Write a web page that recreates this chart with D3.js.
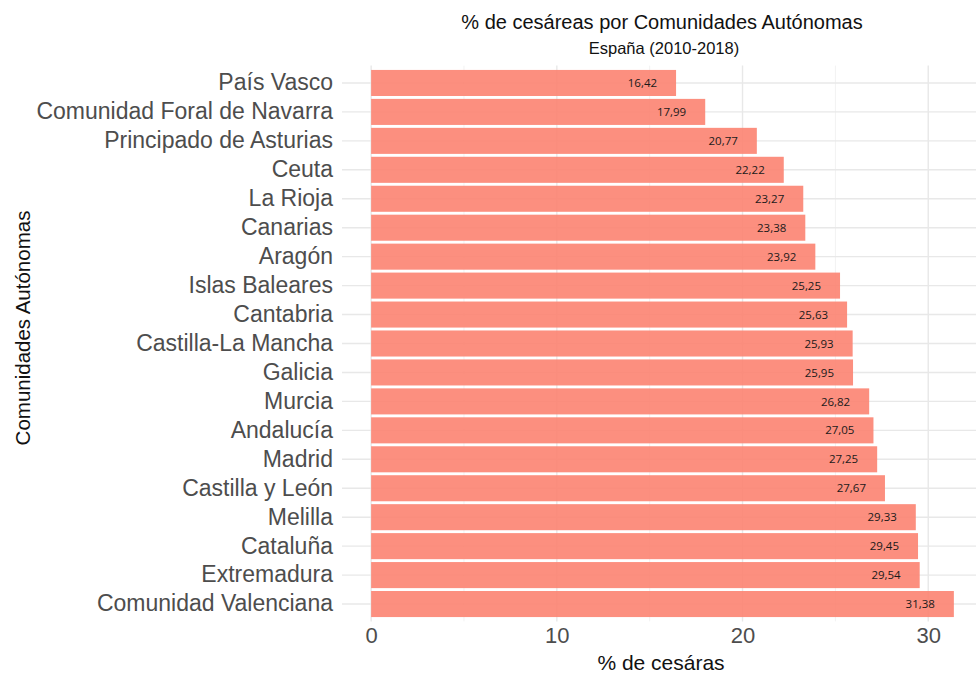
<!DOCTYPE html>
<html>
<head>
<meta charset="utf-8">
<script src="https://cdn.jsdelivr.net/npm/d3@7"></script>
<style>
  body { margin: 0; background: #fff; }
  text { font-family: "Liberation Sans", Arial, sans-serif; }
</style>
</head>
<body>
<script>
// data, top to bottom as in the chart
const regions = [
  'País Vasco', 'Comunidad Foral de Navarra', 'Principado de Asturias', 'Ceuta',
  'La Rioja', 'Canarias', 'Aragón', 'Islas Baleares', 'Cantabria',
  'Castilla-La Mancha', 'Galicia', 'Murcia', 'Andalucía', 'Madrid',
  'Castilla y León', 'Melilla', 'Cataluña', 'Extremadura', 'Comunidad Valenciana'
];
const pct = [
  16.42, 17.99, 20.77, 22.22, 23.27, 23.38, 23.92, 25.25, 25.63,
  25.93, 25.95, 26.82, 27.05, 27.25, 27.67, 29.33, 29.45, 29.54, 31.38
];
const xTicks = [0, 10, 20, 30];
const xMinor = [5, 15, 25];

const w = 976;
const h = 673;
const svg = d3.select('body').append('svg').attr('width', w).attr('height', h);

const pLeft = 342, pRight = 983, pTop = 65.6, pBottom = 621.4;

const maxV = d3.max(pct);
const xScale = d3.scaleLinear()
  .domain([-maxV * 0.05, maxV * 1.05])
  .range([pLeft, pRight]);

const yScale = d3.scaleBand()
  .domain(regions)
  .range([pTop, pBottom])
  .paddingInner(0.1)
  .paddingOuter(0.15);

// gridlines
const grid = svg.append('g');
grid.selectAll('.minor')
  .data(xMinor)
  .enter()
  .append('line')
  .attr('x1', d => xScale(d)).attr('x2', d => xScale(d))
  .attr('y1', pTop).attr('y2', pBottom)
  .attr('stroke', '#f2f2f2').attr('stroke-width', 1);
grid.selectAll('.major')
  .data(xTicks)
  .enter()
  .append('line')
  .attr('x1', d => xScale(d)).attr('x2', d => xScale(d))
  .attr('y1', pTop).attr('y2', pBottom)
  .attr('stroke', '#e8e8e8').attr('stroke-width', 1.4);
grid.selectAll('.hline')
  .data(regions)
  .enter()
  .append('line')
  .attr('x1', pLeft).attr('x2', pRight)
  .attr('y1', d => yScale(d) + yScale.bandwidth() / 2)
  .attr('y2', d => yScale(d) + yScale.bandwidth() / 2)
  .attr('stroke', '#e8e8e8').attr('stroke-width', 1.4);

// bars
svg.selectAll('rect')
  .data(pct)
  .enter()
  .append('rect')
  .attr('x', xScale(0))
  .attr('y', (d, i) => yScale(regions[i]))
  .attr('width', d => xScale(d) - xScale(0))
  .attr('height', yScale.bandwidth())
  .attr('fill', '#fc8371')
  .attr('fill-opacity', 0.9);

// value labels
svg.selectAll('.val')
  .data(pct)
  .enter()
  .append('text')
  .attr('x', d => xScale(d) - 19)
  .attr('y', (d, i) => yScale(regions[i]) + yScale.bandwidth() / 2)
  .attr('dy', '0.36em')
  .attr('text-anchor', 'end')
  .attr('font-size', 11.5)
  .attr('fill', '#1a1a1a')
  .style('font-family', '"Open Sans", sans-serif')
  .text(d => d.toFixed(2).replace('.', ','));

// axes
const yAxis = svg.append('g')
  .attr('transform', `translate(${pLeft},0)`)
  .call(d3.axisLeft(yScale).tickSize(0).tickPadding(9));
yAxis.select('.domain').remove();
yAxis.selectAll('text').attr('font-size', 23).attr('fill', '#4d4d4d')
  .style('font-family', '"Liberation Sans", Arial, sans-serif');

const xAxis = svg.append('g')
  .attr('transform', `translate(0,${pBottom})`)
  .call(d3.axisBottom(xScale).tickValues(xTicks).tickSize(0).tickPadding(6));
xAxis.select('.domain').remove();
xAxis.selectAll('text').attr('font-size', 22).attr('fill', '#4d4d4d')
  .style('font-family', '"Liberation Sans", Arial, sans-serif');

// titles
svg.append('text')
  .attr('x', 662).attr('y', 29)
  .attr('text-anchor', 'middle')
  .attr('font-size', 20).attr('fill', '#111')
  .text('% de cesáreas por Comunidades Autónomas');
svg.append('text')
  .attr('x', 664).attr('y', 54)
  .attr('text-anchor', 'middle')
  .attr('font-size', 16.5).attr('fill', '#111')
  .text('España (2010-2018)');
svg.append('text')
  .attr('x', 661).attr('y', 670)
  .attr('text-anchor', 'middle')
  .attr('font-size', 21).attr('fill', '#111')
  .text('% de cesáras');
svg.append('text')
  .attr('transform', 'translate(30,328) rotate(-90)')
  .attr('text-anchor', 'middle')
  .attr('font-size', 20.5).attr('fill', '#111')
  .text('Comunidades Autónomas');
</script>
</body>
</html>
